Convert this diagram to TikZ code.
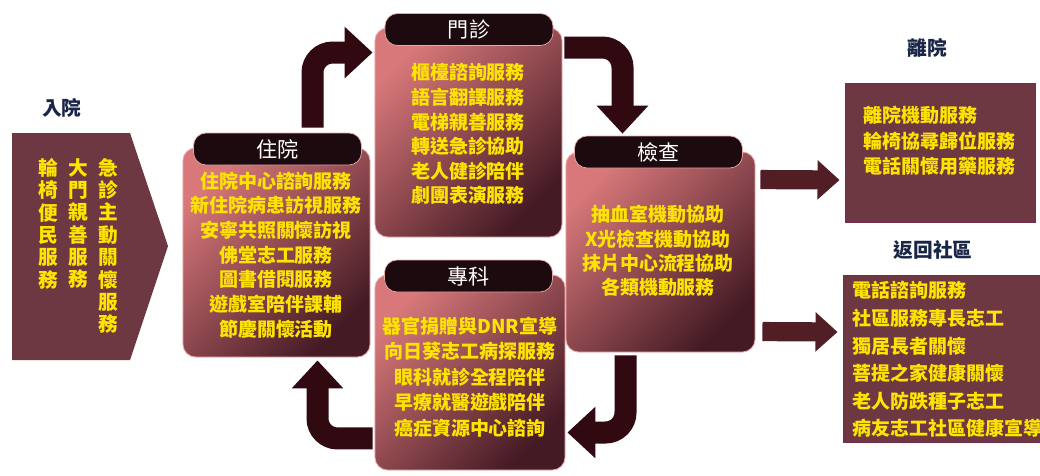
\documentclass[tikz,border=0pt]{standalone}
\usepackage{fontspec}
\newfontfamily\cjk{Noto Sans CJK TC}
\usetikzlibrary{arrows.meta,calc,positioning}

\definecolor{itemyellow}{RGB}{255,228,0}
\definecolor{navytitle}{RGB}{25,38,72}
\definecolor{boxmaroon}{RGB}{110,56,66}
\definecolor{cardlight}{RGB}{216,120,122}
\definecolor{cardmid}{RGB}{138,60,82}
\definecolor{carddark}{RGB}{68,26,36}
\definecolor{cardedge}{RGB}{235,170,170}
\definecolor{headfill}{RGB}{28,10,14}
\definecolor{arrowdark}{RGB}{48,10,16}
\definecolor{arrowflat}{RGB}{82,30,38}

\begin{document}
\begin{tikzpicture}[x=0.025cm,y=-0.025cm]

        \tikzset{
            card/.style={rounded corners=9pt, draw=cardedge, line width=0.6pt,
                top color=cardlight, middle color=cardmid, bottom color=carddark,
                shading angle=45, inner sep=0pt},
            cardhead/.style={rounded corners=9pt, fill=headfill, draw=cardedge,
                line width=0.5pt, minimum width=4.2cm, minimum height=0.8cm,
                text=white, font=\cjk\fontsize{15}{18}\selectfont},
            plainbox/.style={fill=boxmaroon, draw=boxmaroon!80!violet, line width=0.6pt,
                inner sep=0pt},
            items/.style={text=itemyellow, align=center, inner sep=0pt},
            itemsleft/.style={text=itemyellow, align=left, inner sep=0pt, anchor=west},
            vcol/.style={text=itemyellow, align=center, inner sep=0pt, anchor=north,
                font=\cjk\bfseries\fontsize{14}{15.9}\selectfont},
            title/.style={text=navytitle, font=\cjk\bfseries\fontsize{14}{16}\selectfont},
            bigarrow/.style={draw=arrowdark, line width=0.55cm, rounded corners=0.5cm,
                -{Triangle[width=1.25cm,length=0.7cm]}},
            flatarrow/.style={draw=arrowflat, line width=0.48cm,
                -{Triangle[width=0.95cm,length=0.55cm]}}
        }

        \useasboundingbox[fill=white] (0,0) rectangle (1040,475);

        % admission
        \node[title] (tin) at (62,108) {入院};
        \fill[boxmaroon] (12,133) -- (130,133) -- (168,246) -- (130,360) -- (12,360) -- cycle;
        \node[vcol] (in3) at (108,158) {急\\診\\主\\動\\關\\懷\\服\\務};
        \node[vcol] (in2) at (78,158) {大\\門\\親\\善\\服\\務};
        \node[vcol] (in1) at (48,158) {輪\\椅\\便\\民\\服\\務};

        % cycle cards
        \node[card, minimum width=4.675cm, minimum height=5.225cm] (zy) at (276.5,252.5) {};
        \node[cardhead] (zyh) at (277.5,149) {住院};
        \node[items, font=\cjk\bfseries\fontsize{13.5}{17.6}\selectfont] (zyt) at (276,255)
        {住院中心諮詢服務\\新住院病患訪視服務\\安寧共照關懷訪視\\佛堂志工服務\\圖書借閱服務\\遊戲室陪伴課輔\\節慶關懷活動};

        \node[card, minimum width=4.675cm, minimum height=5.225cm] (mz) at (468.5,132.5) {};
        \node[cardhead] (mzh) at (469,29.5) {門診};
        \node[items, font=\cjk\bfseries\fontsize{13.5}{17.5}\selectfont] (mzt) at (468,134)
        {櫃檯諮詢服務\\語言翻譯服務\\電梯親善服務\\轉送急診協助\\老人健診陪伴\\劇團表演服務};

        \node[card, minimum width=4.725cm, minimum height=5cm] (jc) at (660.5,252) {};
        \node[cardhead] (jch) at (658.5,152) {檢查};
        \node[items, font=\cjk\bfseries\fontsize{13.5}{17.3}\selectfont] (jct) at (658,251)
        {抽血室機動協助\\X光檢查機動協助\\抹片中心流程協助\\各類機動服務};

        \node[card, minimum width=4.75cm, minimum height=4.875cm] (zk) at (470,372.5) {};
        \node[cardhead] (zkh) at (468.5,276) {專科};
        \node[items, font=\cjk\bfseries\fontsize{13.5}{18.1}\selectfont] (zkt) at (470,377)
        {器官捐贈與DNR宣導\\向日葵志工病探服務\\眼科就診全程陪伴\\早療就醫遊戲陪伴\\癌症資源中心諮詢};

        % discharge
        \node[title] (tly) at (927,48) {離院};
        \node[plainbox, minimum width=4.75cm, minimum height=3.475cm] (ly) at (940,152.5) {};
        \node[itemsleft, font=\cjk\bfseries\fontsize{13.5}{18.1}\selectfont] (lyt) at (863,141)
        {離院機動服務\\輪椅協尋歸位服務\\電話關懷用藥服務};

        \node[title] (tfh) at (933,250) {返回社區};
        \node[plainbox, minimum width=5.05cm, minimum height=4.175cm] (fh) at (944,358.5) {};
        \node[itemsleft, font=\cjk\bfseries\fontsize{13.5}{19.6}\selectfont] (fht) at (852,359.5)
        {電話諮詢服務\\社區服務專長志工\\獨居長者關懷\\菩提之家健康關懷\\老人防跌種子志工\\病友志工社區健康宣導};

        % cycle arrows
        \draw[bigarrow] ($(zyh.north)+(35,-5)$) |- ($(mz.north west)+(-2,25)$);
        \draw[bigarrow] ($(mz.north east)+(2,20)$) -| ($(jch.north)+(-36,-2)$);
        \draw[bigarrow] ($(jc.south)+(-35,3)$) |- ($(zk.east)+(2,60)$);
        \draw[bigarrow] ($(zk.south west)+(-2,-32)$) -| ($(zy.south)+(41,3)$);

        % out arrows
        \draw[flatarrow] ($(jc.north east)+(5,28)$) -- ($(ly.west)+(-5,27.5)$);
        \draw[flatarrow] ($(jc.north east)+(7,180)$) -- ($(fh.west)+(-5,-26.5)$);

\end{tikzpicture}
\end{document}
